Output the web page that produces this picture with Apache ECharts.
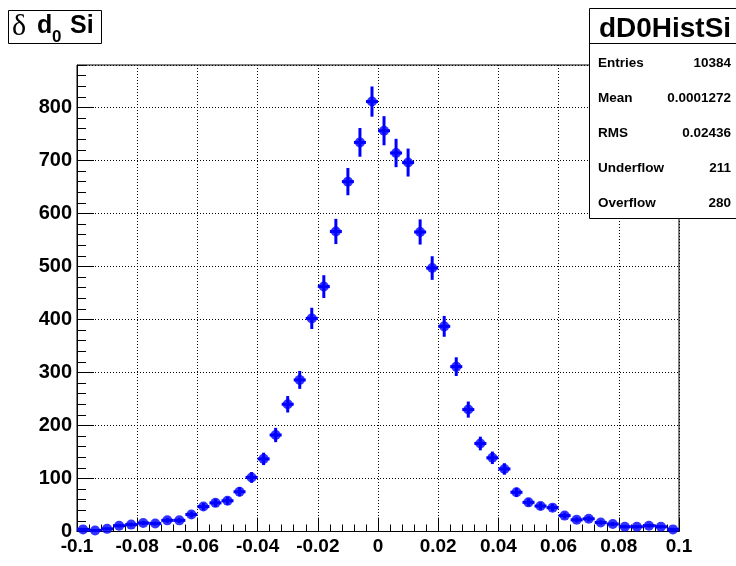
<!DOCTYPE html>
<html><head><meta charset="utf-8">
<script src="https://cdn.jsdelivr.net/npm/echarts@6/dist/echarts.min.js"></script>
<style>html,body{margin:0;padding:0;background:#fff}#c{width:736px;height:566px}</style>
</head><body><div id="c"></div>
<script>
// Bin centres of dD0HistSi (50 bins, -0.1 .. 0.1)
const binCenters = [-0.098,-0.094,-0.090,-0.086,-0.082,-0.078,-0.074,-0.070,-0.066,-0.062,
  -0.058,-0.054,-0.050,-0.046,-0.042,-0.038,-0.034,-0.030,-0.026,-0.022,
  -0.018,-0.014,-0.010,-0.006,-0.002,0.002,0.006,0.010,0.014,0.018,
  0.022,0.026,0.030,0.034,0.038,0.042,0.046,0.050,0.054,0.058,
  0.062,0.066,0.070,0.074,0.078,0.082,0.086,0.090,0.094,0.098];
const counts = [4,2,5,11,13,16,15,21,21,32,
  47,54,58,75,102,137,182,240,286,402,
  462,566,660,734,811,756,714,696,565,497,
  387,311,230,166,139,118,74,55,48,45,
  30,22,24,17,14,9,9,11,9,4];
const binWidth = 0.004;
const statsLabels = ['Entries','Mean','RMS','Underflow','Overflow'];
const statsValues = ['10384','0.0001272','0.02436','211','280'];
const histName = 'dD0HistSi';

const data = binCenters.map((x,i)=>[x, counts[i], Math.sqrt(counts[i])]);
const FONT = 'Liberation Sans';
const lab = {fontFamily:FONT, fontWeight:'bold', fontSize:19, color:'#000'};

const graphics = [
  {type:'rect', shape:{x:8.5,y:10.5,width:93,height:33}, style:{fill:'#fff',stroke:'#000',lineWidth:1}, z:10},
  {type:'text', x:12, y:27, style:{text:'δ', font:'30px "Liberation Serif"', fill:'#000', verticalAlign:'middle'}, z:11},
  {type:'text', x:37, y:26, style:{text:'d', font:'bold 25px "Liberation Sans"', fill:'#000', verticalAlign:'middle'}, z:11},
  {type:'text', x:52, y:37, style:{text:'0', font:'bold 17px "Liberation Sans"', fill:'#000', verticalAlign:'middle'}, z:11},
  {type:'text', x:70, y:26, style:{text:'Si', font:'bold 25px "Liberation Sans"', fill:'#000', verticalAlign:'middle'}, z:11},
  {type:'rect', shape:{x:589.5,y:8.5,width:150,height:210}, style:{fill:'#fff',stroke:'#000',lineWidth:1}, z:10},
  {type:'line', shape:{x1:589.5,y1:43.5,x2:736,y2:43.5}, style:{stroke:'#000',lineWidth:1}, z:11},
  {type:'text', x:665, y:29, style:{text:histName, font:'bold 28px "Liberation Sans"', fill:'#000', align:'center', verticalAlign:'middle'}, z:11}
];
statsLabels.forEach((s,i)=>{
  const y = 63 + i*35;
  graphics.push({type:'text', x:598, y:y, style:{text:s, font:'bold 13.5px "Liberation Sans"', fill:'#000', verticalAlign:'middle'}, z:11});
  graphics.push({type:'text', x:731, y:y, style:{text:statsValues[i], font:'bold 13.5px "Liberation Sans"', fill:'#000', align:'right', verticalAlign:'middle'}, z:11});
});

const chart = echarts.init(document.getElementById('c'), null, {renderer:'canvas'});
chart.setOption({
  backgroundColor:'#fff',
  animation:false,
  grid:{left:77, right:57, top:65, bottom:34.5, show:true, borderColor:'#000', borderWidth:1, backgroundColor:'transparent', outerBoundsMode:'none'},
  xAxis:[{
    type:'value', min:-0.1, max:0.1, interval:0.02, position:'bottom',
    axisLine:{show:true, onZero:false, lineStyle:{color:'#000', width:1}},
    axisTick:{show:true, inside:true, length:14, lineStyle:{color:'#000', width:1}},
    minorTick:{show:true, splitNumber:5, length:7, lineStyle:{color:'#000', width:1}},
    splitLine:{show:true, lineStyle:{color:'#000', width:1, type:[1,2]}},
    axisLabel:Object.assign({margin:6, showMinLabel:true, showMaxLabel:true, hideOverlap:false,
      formatter:v=>{const r=Math.round(v*1000)/1000; return r===0?'0':String(r);}}, lab)
  }],
  yAxis:[{
    type:'value', min:0, max:880, interval:100, position:'left',
    axisLine:{show:true, onZero:false, lineStyle:{color:'#000', width:1}},
    axisTick:{show:true, inside:true, length:17, lineStyle:{color:'#000', width:1}},
    splitLine:{show:true, lineStyle:{color:'#000', width:1, type:[1,2]}},
    axisLabel:Object.assign({margin:5, showMaxLabel:false, padding:[7,0,0,0],
      formatter:v=>(v%100===0?String(v):'')}, lab, {fontSize:20})
  },{
    type:'value', min:0, max:880, interval:20, position:'left',
    axisLine:{show:false, onZero:false}, splitLine:{show:false}, axisLabel:{show:false},
    axisTick:{show:true, inside:true, length:9, lineStyle:{color:'#000', width:1}}
  }],
  series:[{
    type:'custom', xAxisIndex:0, yAxisIndex:0, data:data, z:3,
    renderItem:function(params, api){
      const x = api.value(0), y = api.value(1), e = api.value(2);
      const c = api.coord([x,y]);
      const l = api.coord([x-binWidth/2,y]);
      const r = api.coord([x+binWidth/2,y]);
      const t = api.coord([x,y+e]);
      const b = api.coord([x,Math.max(0,y-e)]);
      return {type:'group', children:[
        {type:'line', shape:{x1:l[0],y1:c[1],x2:r[0],y2:c[1]}, style:{stroke:'#0000ff',lineWidth:3}},
        {type:'line', shape:{x1:c[0],y1:t[1],x2:c[0],y2:b[1]}, style:{stroke:'#0000ff',lineWidth:3}}
      ]};
    }
  },{
    type:'scatter', xAxisIndex:0, yAxisIndex:0, z:4,
    data:data.map(d=>[d[0],d[1]]), symbol:'circle', symbolSize:10,
    itemStyle:{color:'#0000ff'}
  }],
  graphic:graphics
});
</script></body></html>
